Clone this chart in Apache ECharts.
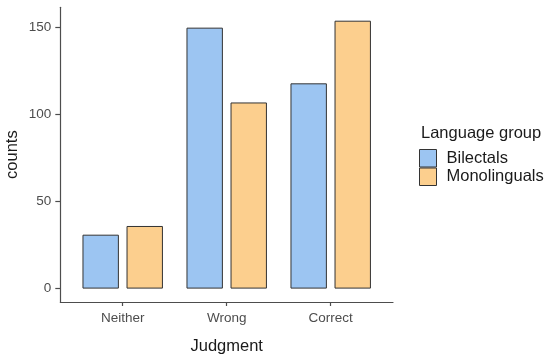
<!DOCTYPE html>
<html><head><meta charset="utf-8">
<script src="https://cdn.jsdelivr.net/npm/echarts@6/dist/echarts.min.js"></script>
<style>html,body{margin:0;padding:0;background:#fff}#c{width:550px;height:360px}</style>
</head><body><div id="c"></div>
<script>
const categories = ['Neither', 'Wrong', 'Correct'];
const bilectals = [31, 150, 118];
const monolinguals = [36, 107, 154];
const yTicks = [0, 50, 100, 150];
const seriesNames = ['Bilectals', 'Monolinguals'];
const legendTitle = 'Language group';
const xTitle = 'Judgment';
const yTitle = 'counts';

const FONT = '"Liberation Sans", Arial, sans-serif';
const AX = '#4d4d4d';
const yMin = -7.7, yMax = 161.7;
const gTop = 7.3, gHeight = 294.7;

const chart = echarts.init(document.getElementById('c'));
chart.setOption({
  animation: false,
  textStyle: {fontFamily: FONT},
  title: {text: legendTitle, left: 421, top: 125, padding: 0,
    textStyle: {fontFamily: FONT, fontSize: 16.5, fontWeight: 'normal', color: '#1a1a1a'}},
  legend: {orient: 'vertical', left: 419, top: 149, itemGap: 0, itemWidth: 17, itemHeight: 17.5,
    padding: 0, icon: 'rect', data: seriesNames,
    itemStyle: {borderWidth: 1, borderColor: '#333333'},
    textStyle: {fontFamily: FONT, fontSize: 16.5, color: '#1a1a1a', padding: [0, 0, 0, 5]}},
  grid: [
    {left: 60.3, top: gTop, width: 332.7, height: gHeight, containLabel: false, outerBoundsMode: 'none'},
    {left: 70.7, top: gTop, width: 312, height: gHeight, containLabel: false, outerBoundsMode: 'none'}
  ],
  xAxis: [
    {gridIndex: 0, type: 'value', min: 0, max: 1,
      axisLine: {show: true, onZero: false, lineStyle: {color: AX, width: 1.2}},
      axisTick: {show: false}, axisLabel: {show: false}, splitLine: {show: false}},
    {gridIndex: 1, type: 'category', data: categories, axisLine: {show: false, onZero: false},
      axisTick: {show: true, alignWithLabel: true, length: 4, lineStyle: {color: AX, width: 1.2}},
      axisLabel: {color: AX, fontSize: 13.5, fontFamily: FONT, margin: 9},
      name: xTitle, nameLocation: 'middle', nameGap: 36, nameMoveOverlap: false,
      nameTextStyle: {fontSize: 16.5, color: '#1a1a1a', fontFamily: FONT}}
  ],
  yAxis: [
    {gridIndex: 0, type: 'value', min: yMin, max: yMax,
      axisLine: {show: true, onZero: false, lineStyle: {color: AX, width: 1.2}},
      axisTick: {show: true, length: 5, customValues: yTicks, lineStyle: {color: AX, width: 1.2}},
      axisLabel: {color: AX, fontSize: 13.5, fontFamily: FONT, margin: 9, customValues: yTicks},
      splitLine: {show: false},
      name: yTitle, nameLocation: 'middle', nameRotate: 90, nameGap: 39, nameMoveOverlap: false,
      nameTextStyle: {fontSize: 16.5, color: '#1a1a1a', fontFamily: FONT}},
    {gridIndex: 1, type: 'value', min: yMin, max: yMax, show: false, splitLine: {show: false}}
  ],
  series: [
    {name: seriesNames[0], type: 'bar', xAxisIndex: 1, yAxisIndex: 1, data: bilectals,
      barWidth: '35%', barGap: '21%',
      itemStyle: {color: '#9cc5f2', borderColor: '#333333', borderWidth: 1}},
    {name: seriesNames[1], type: 'bar', xAxisIndex: 1, yAxisIndex: 1, data: monolinguals,
      barWidth: '35%', barGap: '21%',
      itemStyle: {color: '#fccf8e', borderColor: '#333333', borderWidth: 1}}
  ]
});
</script></body></html>
